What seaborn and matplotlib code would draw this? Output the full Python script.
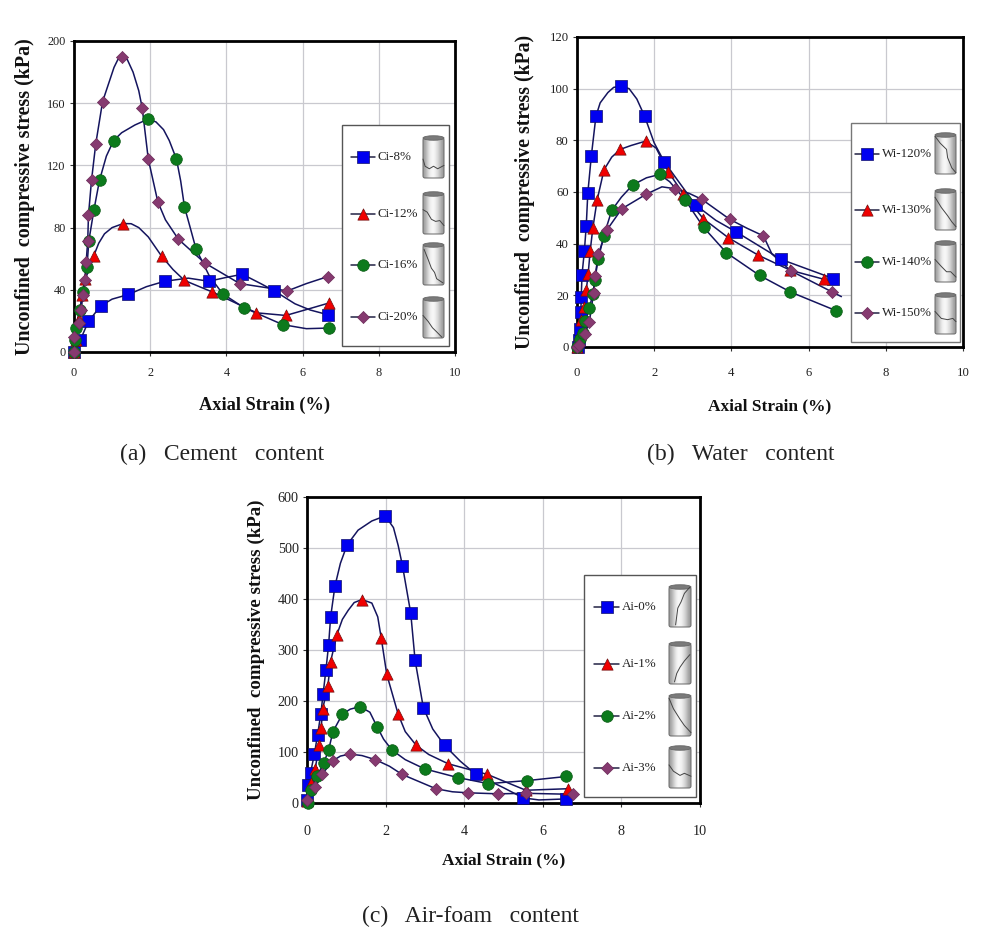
import numpy as np
import pandas as pd
import matplotlib
matplotlib.use('Agg')
import matplotlib.pyplot as plt
import seaborn as sns
from matplotlib.patches import Ellipse, Rectangle, FancyBboxPatch

# ---- panel (a) cement content: marked points
ci8_x = [0, 0.17, 0.38, 0.70, 1.43, 2.38, 3.54, 4.42, 5.26, 6.66]
ci8_y = [0, 8, 19.7, 29.6, 37, 45.5, 45.5, 50, 39.3, 24]
ci12_x = [0, 0.06, 0.12, 0.22, 0.30, 0.52, 1.29, 2.30, 2.90, 3.63, 4.79, 5.56, 6.69]
ci12_y = [0, 7.5, 21.5, 36.5, 46.8, 62, 82.6, 61.6, 46, 38.6, 25.2, 23.5, 31.5]
ci16_x = [0, 0.02, 0.04, 0.15, 0.23, 0.34, 0.39, 0.52, 0.67, 1.04, 1.93, 2.69, 2.90, 3.20, 3.90, 4.46, 5.48, 6.68]
ci16_y = [0, 7.5, 15.7, 27, 38.6, 54.7, 71.5, 91, 110.5, 136, 149.6, 124, 93.3, 66.5, 37.5, 28.5, 17.6, 15.4]
ci20_x = [0, 0, 0.12, 0.19, 0.23, 0.28, 0.32, 0.36, 0.38, 0.46, 0.57, 0.75, 1.27, 1.79, 1.95, 2.20, 2.74, 3.43, 4.35, 5.60, 6.66]
ci20_y = [0, 9.6, 18.7, 27, 36.5, 46, 58, 71.5, 88, 110.5, 133.7, 161, 190, 157, 124, 96.6, 72.5, 57.3, 44, 39.3, 48.5]

# extra points on the curves, no marker
ci8_cx = [1.0, 1.9, 3.0, 4.0, 4.9, 5.8, 6.2]
ci8_cy = [34, 42, 47.5, 48, 44, 31, 27]
ci12_cx = [0.65, 0.8, 1.0, 1.5, 1.7, 1.95, 2.6, 6.2]
ci12_cy = [70, 76, 80, 82.5, 80, 74, 53, 28]
ci16_cx = [0.85, 1.25, 1.6, 2.15, 2.35, 2.5, 2.8, 3.05, 3.55, 6.1]
ci16_cy = [126, 141, 146, 148, 143, 136, 110, 80, 49, 15]
ci20_cx = [0.9, 1.05, 1.15, 1.4, 1.55, 1.7, 2.4, 6.1]
ci20_cy = [172, 183, 188, 188, 180, 168, 85, 44]

# ---- panel (b) water content
wi120_x = [0.03, 0.06, 0.08, 0.10, 0.11, 0.13, 0.19, 0.24, 0.28, 0.37, 0.49, 1.14, 1.75, 2.26, 3.07, 4.13, 5.29, 6.64]
wi120_y = [0, 2.6, 7, 13.5, 19.4, 28, 37, 47, 59.6, 73.8, 89.3, 101, 89.4, 71.7, 55, 44.5, 33.9, 26.5]
wi130_x = [0, 0.06, 0.11, 0.19, 0.24, 0.29, 0.34, 0.41, 0.52, 0.70, 1.12, 1.78, 2.37, 2.75, 3.27, 3.92, 4.70, 5.53, 6.40]
wi130_y = [0, 4.5, 10.3, 15.5, 22, 28.4, 37, 46, 56.8, 68.6, 76.5, 79.7, 67.7, 59.4, 49.7, 42.3, 35.5, 29.7, 26.2]
wi140_x = [0, 0.09, 0.15, 0.21, 0.32, 0.41, 0.46, 0.55, 0.69, 0.90, 1.44, 2.14, 2.80, 3.28, 3.87, 4.73, 5.53, 6.72]
wi140_y = [0, 3.2, 5.4, 10, 15.2, 20.4, 26, 34, 42.8, 52.9, 62.7, 66.8, 57, 46.3, 36.5, 27.7, 21.3, 14]
wi150_x = [0, 0.05, 0.21, 0.32, 0.43, 0.47, 0.55, 0.77, 1.16, 1.80, 2.53, 3.23, 3.96, 4.83, 5.55, 6.61]
wi150_y = [0, 0.6, 5.2, 9.7, 20.9, 27.4, 35.9, 45.2, 53.5, 59.2, 61.3, 57.2, 49.4, 43, 29.4, 21.3]

wi120_cx = [0.6, 0.8, 0.95, 1.35, 1.55, 2.0, 3.6]
wi120_cy = [94.5, 98.5, 100.5, 100, 96, 79, 49]
wi130_cx = [0.9, 1.4, 2.05]
wi130_cy = [73.5, 78, 77]
wi140_cx = [1.15, 1.8, 2.4]
wi140_cy = [58, 65.5, 64]
wi150_cx = [2.2, 2.9, 4.4, 5.05, 6.85]
wi150_cy = [62, 59.5, 46, 36, 19.5]

# ---- panel (c) air-foam content
ai0_x = [0, 0.03, 0.09, 0.19, 0.27, 0.35, 0.41, 0.48, 0.55, 0.60, 0.71, 1.02, 1.99, 2.43, 2.64, 2.75, 2.96, 3.50, 4.30, 5.50, 6.59]
ai0_y = [6.5, 36, 59, 97, 134, 174, 214, 260, 310, 364, 425, 506, 563, 465, 372, 280, 187, 113, 56, 10, 8]
ai1_x = [0, 0.10, 0.21, 0.30, 0.36, 0.40, 0.53, 0.60, 0.76, 1.40, 1.89, 2.03, 2.32, 2.78, 3.59, 4.59, 5.57, 6.64]
ai1_y = [3, 39, 66, 113, 147, 185, 229, 277, 330, 399, 323, 252, 174, 113, 77, 56, 25, 28]
ai2_x = [0.02, 0.09, 0.25, 0.43, 0.55, 0.66, 0.90, 1.35, 1.78, 2.16, 2.99, 3.83, 4.61, 5.61, 6.60]
ai2_y = [0, 26, 52, 79, 104, 140, 174, 189, 150, 104, 67, 50, 38, 44, 52]
ai3_x = [0, 0.21, 0.38, 0.66, 1.09, 1.74, 2.42, 3.28, 4.09, 4.86, 5.57, 6.77]
ai3_y = [5, 31, 56, 83, 96, 85, 56, 28, 20, 18, 19, 17]

ai0_cx = [0.85, 1.3, 1.65, 2.2, 2.32, 3.2, 3.9, 5.0, 5.9]
ai0_cy = [470, 535, 553, 540, 505, 145, 82, 30, 6]
ai1_cx = [0.9, 1.05, 1.2, 1.65, 1.8, 2.5, 3.1]
ai1_cy = [360, 378, 393, 392, 365, 140, 95]
ai2_cx = [1.1, 1.6, 1.95, 2.5]
ai2_cy = [184, 178, 125, 85]
ai3_cx = [0.85, 1.4, 2.1, 3.7]
ai3_cy = [92, 93, 72, 22]

ci_names = ['Ci-8%', 'Ci-12%', 'Ci-16%', 'Ci-20%']
wi_names = ['Wi-120%', 'Wi-130%', 'Wi-140%', 'Wi-150%']
ai_names = ['Ai-0%', 'Ai-1%', 'Ai-2%', 'Ai-3%']

ci_yticks = [0, 40, 80, 120, 160, 200]
wi_yticks = [0, 20, 40, 60, 80, 100, 120]
ai_yticks = [0, 100, 200, 300, 400, 500, 600]
xticks = [0, 2, 4, 6, 8, 10]

captions = ['(a)   Cement   content', '(b)   Water   content', '(c)   Air-foam   content']
xlabel = 'Axial Strain (%)'
ylabel = 'Unconfined  compressive stress (kPa)'

# crack lines on the specimen icons, as fractions of the cylinder box
ci_cracks = [[(0, .55), (.1, .72), (.3, .78), (.5, .72), (.7, .78), (1, .7)],
             [(0, .42), (.2, .48), (.4, .65), (.6, .7), (.8, .68), (1, .8)],
             [(.05, .15), (.25, .4), (.4, .6), (.55, .7), (.65, .85), (.95, .95)],
             [(0, .45), (.25, .6), (.45, .75), (.65, .85), (.9, .98)]]
wi_cracks = [[(0, .08), (.25, .25), (.55, .4), (.6, .6), (.8, .85), (1, .97)],
             [(0, .2), (.3, .45), (.6, .65), (.8, .8), (1, .92)],
             [(0, .45), (.3, .62), (.55, .75), (.75, .75), (1, .88)],
             [(0, .45), (.3, .62), (.6, .65), (.85, .62), (1, .7)]]
ai_cracks = [[(.95, .05), (.7, .2), (.55, .4), (.4, .55), (.3, .95)],
             [(.95, .3), (.7, .45), (.5, .6), (.35, .75), (.25, .95)],
             [(0, .1), (.2, .35), (.5, .6), (.7, .75), (1, .92)],
             [(0, .45), (.2, .6), (.5, .7), (.7, .65), (1, .72)]]

W, H = 989, 934
MARKERS = ['s', '^', 'o', 'D']
COLORS = ['#0000f0', '#f00000', '#0c7a1c', '#863a70']
EDGES = ['#10106a', '#701010', '#0a5a14', '#6a2a58']
LINE = '#14145e'
SIZES = [72, 66, 70, 38]
SERIF = 'Liberation Serif'

sns.set_theme(style='whitegrid')
plt.rcParams['font.family'] = [SERIF, 'DejaVu Serif']


def make_frame(names, xs, ys, cxs, cys):
    rows = []
    for name, x, y, cx, cy in zip(names, xs, ys, cxs, cys):
        rows.append(pd.DataFrame({'strain': x, 'stress': y, 'series': name, 'marked': True}))
        rows.append(pd.DataFrame({'strain': cx, 'stress': cy, 'series': name, 'marked': False}))
    df = pd.concat(rows, ignore_index=True)
    return df.sort_values(['series', 'strain', 'stress'])


def draw_panel(fig, box, df, names, yticks, label_y, y_off, tick_size, tick_pad, x_size, y_size):
    left, top, right, bottom = box
    ax = fig.add_axes([left / W, 1 - bottom / H, (right - left) / W, (bottom - top) / H])
    sns.lineplot(data=df, x='strain', y='stress', hue='series', hue_order=names,
                 palette=[LINE] * 4, estimator=None, sort=False, linewidth=1.1,
                 legend=False, ax=ax)
    for i, name in enumerate(names):
        pts = df[(df['series'] == name) & df['marked']]
        sns.scatterplot(data=pts, x='strain', y='stress', marker=MARKERS[i], color=COLORS[i],
                        edgecolor=EDGES[i], linewidth=0.5, s=SIZES[i], clip_on=False,
                        legend=False, ax=ax, zorder=4 + i)
    ax.set_xlim(0, 10)
    ax.set_ylim(0, yticks[-1])
    ax.set_xticks(xticks)
    ax.set_yticks(yticks)
    ax.grid(True, color='#c9c9cf', linewidth=0.9)
    ax.set_axisbelow(True)
    for s in ax.spines.values():
        s.set_color('black')
        s.set_linewidth(2.0)
    ax.tick_params(axis='both', length=3, width=0.8, color='#333333', labelsize=tick_size,
                   labelcolor='#222222', pad=3, left=True, bottom=True)
    ax.tick_params(axis='x', pad=tick_pad)
    ax.set_xlabel(xlabel, fontweight='bold', fontsize=x_size, color='#111111', va='center')
    ax.set_ylabel(ylabel, fontweight='bold', fontsize=y_size, color='#111111')
    ax.xaxis.set_label_coords(0.5, 1 - (label_y - top) / (bottom - top))
    ax.yaxis.set_label_coords(-y_off / (right - left), 0.5)
    return ax


def draw_legend(ov, box, names, rows, line_x, text_x, cyl_x, cyl_rows, cracks, edge):
    x0, y0, x1, y1 = box
    ov.add_patch(Rectangle((x0, y0), x1 - x0, y1 - y0, facecolor='white', edgecolor=edge,
                           linewidth=1.0, zorder=2))
    for i, name in enumerate(names):
        ov.plot(line_x, [rows[i], rows[i]], color='#222244', lw=1.1, zorder=3)
        ov.scatter([sum(line_x) / 2], [rows[i]], marker=MARKERS[i], s=SIZES[i], color=COLORS[i],
                   edgecolors=EDGES[i], linewidths=0.5, zorder=4)
        ov.text(text_x, rows[i], name, fontsize=9.4, va='center', ha='left', color='#222222', zorder=4)

        # small cylinder icon with its crack
        cx0, cx1 = cyl_x
        cy0, cy1 = cyl_rows[i]
        grad = np.array([[.62, .8, .95, .98, .9, .78, .6]])
        im = ov.imshow(grad, cmap='gray', vmin=0, vmax=1, extent=(cx0, cx1, cy1, cy0 + 2),
                       aspect='auto', interpolation='bicubic', zorder=3)
        clip = FancyBboxPatch((cx0, cy0 + 2), cx1 - cx0, cy1 - cy0 - 2,
                              boxstyle='round,pad=0,rounding_size=2', transform=ov.transData,
                              facecolor='none', edgecolor='#666666', linewidth=0.7, zorder=5)
        ov.add_patch(clip)
        im.set_clip_path(clip)
        ov.add_patch(Ellipse(((cx0 + cx1) / 2, cy0 + 2), cx1 - cx0, 4.5, facecolor='#7a7a7a',
                             edgecolor='#666666', linewidth=0.6, zorder=6))
        u = [cx0 + p[0] * (cx1 - cx0) for p in cracks[i]]
        v = [cy0 + p[1] * (cy1 - cy0) for p in cracks[i]]
        ov.plot(u, v, color='#444444', lw=0.7, zorder=6)


ci_df = make_frame(ci_names, [ci8_x, ci12_x, ci16_x, ci20_x], [ci8_y, ci12_y, ci16_y, ci20_y],
                   [ci8_cx, ci12_cx, ci16_cx, ci20_cx], [ci8_cy, ci12_cy, ci16_cy, ci20_cy])
wi_df = make_frame(wi_names, [wi120_x, wi130_x, wi140_x, wi150_x], [wi120_y, wi130_y, wi140_y, wi150_y],
                   [wi120_cx, wi130_cx, wi140_cx, wi150_cx], [wi120_cy, wi130_cy, wi140_cy, wi150_cy])
ai_df = make_frame(ai_names, [ai0_x, ai1_x, ai2_x, ai3_x], [ai0_y, ai1_y, ai2_y, ai3_y],
                   [ai0_cx, ai1_cx, ai2_cx, ai3_cx], [ai0_cy, ai1_cy, ai2_cy, ai3_cy])

fig = plt.figure(figsize=(W / 100, H / 100), dpi=100, facecolor='white')

draw_panel(fig, (74, 41, 455, 352), ci_df, ci_names, ci_yticks, 405, 39, 8.8, 8, 13.2, 14.4)
draw_panel(fig, (577, 37, 963, 347), wi_df, wi_names, wi_yticks, 406, 42, 9.2, 11.5, 12.5, 14.2)
draw_panel(fig, (307, 497, 700, 803), ai_df, ai_names, ai_yticks, 860, 42, 10.2, 12.5, 12.5, 13.6)

# overlay in pixel coordinates for the legends and the captions
ov = fig.add_axes([0, 0, 1, 1], facecolor='none')
ov.grid(False)
ov.axis('off')

draw_legend(ov, (342, 125, 449, 346), ci_names, [157, 214, 265, 317], (351, 375), 378, (423, 444),
            [(136, 178), (192, 234), (243, 285), (297, 338)], ci_cracks, '#555555')
draw_legend(ov, (851, 123, 960, 342), wi_names, [154, 210, 262, 313], (855, 879), 882, (935, 956),
            [(133, 174), (189, 230), (241, 282), (293, 334)], wi_cracks, '#777777')
draw_legend(ov, (584, 575, 696, 797), ai_names, [607, 664, 716, 768], (594, 619), 622, (669, 691),
            [(585, 627), (642, 684), (694, 736), (746, 788)], ai_cracks, '#555555')

ov.set_xlim(0, W)
ov.set_ylim(H, 0)

for text, cx, cy in zip(captions, [222, 741, 470], [454, 454, 916]):
    ov.text(cx, cy, text, ha='center', va='center', fontsize=17, color='#222222')

fig.savefig('out.png', dpi=100)
